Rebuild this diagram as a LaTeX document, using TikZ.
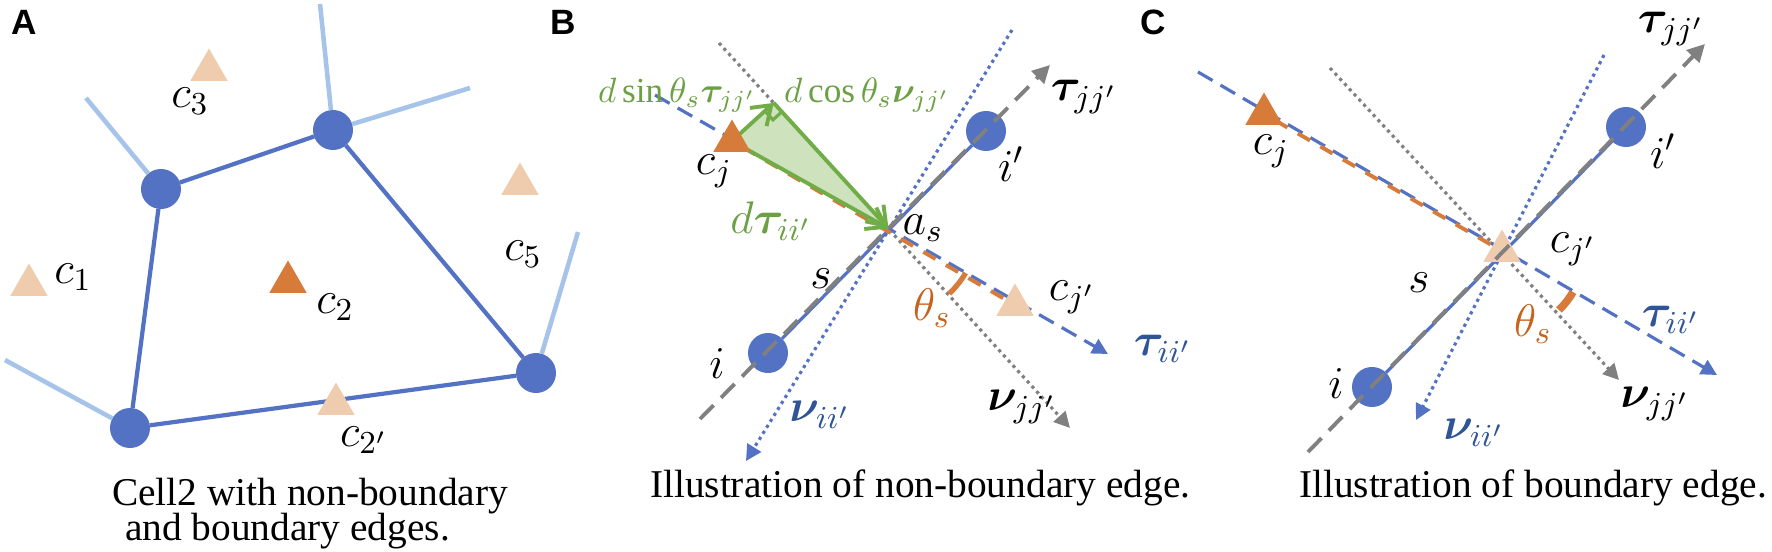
\RequirePackage{fix-cm}
\documentclass[tikz,border=0pt]{standalone}
\usepackage{amsmath}
\usepackage{bm}
\usepackage{fontspec}
\setmainfont{Liberation Serif}
\newfontfamily\panelfont{Liberation Sans}
\usetikzlibrary{arrows.meta,calc,shapes.geometric}

\definecolor{cellblue}{RGB}{84,114,196}
\definecolor{edgelight}{RGB}{166,196,234}
\definecolor{peach}{RGB}{240,204,174}
\definecolor{rust}{RGB}{214,123,58}
\definecolor{leaf}{RGB}{112,173,71}
\definecolor{leaffill}{RGB}{206,226,190}
\definecolor{leaftext}{RGB}{108,160,68}
\definecolor{axisgray}{RGB}{128,128,128}
\definecolor{navy}{RGB}{47,85,151}
\definecolor{thetatext}{RGB}{196,98,30}

\begin{document}
\begin{tikzpicture}[
  x=0.01cm,
  y=0.01cm,
  every node/.style={inner sep=0pt, outer sep=0pt},
  vertex/.style={circle, fill=cellblue, minimum size=0.40cm},
  centroid/.style={regular polygon, regular polygon sides=3, minimum size=0.43cm, fill=peach},
  maincentroid/.style={centroid, fill=rust},
  celledge/.style={draw=cellblue, line width=1.2pt},
  outedge/.style={draw=edgelight, line width=1.3pt},
  segedge/.style={draw=cellblue, line width=0.9pt},
  tanaxis/.style={draw=axisgray, line width=1.1pt, dash pattern=on 5.5pt off 3pt, -{Triangle[length=5pt,width=5pt]}},
  normaxis/.style={draw=axisgray, line width=0.9pt, dash pattern=on 0.9pt off 1.1pt, -{Triangle[length=4.5pt,width=4.5pt]}},
  bluetan/.style={draw=cellblue, line width=0.9pt, dash pattern=on 4.8pt off 2.6pt, -{Triangle[length=4.5pt,width=4.5pt]}},
  bluenorm/.style={draw=cellblue, line width=0.9pt, dash pattern=on 0.9pt off 1.1pt, -{Triangle[length=4.5pt,width=4.5pt]}},
  rustdash/.style={draw=rust, line width=1.1pt, dash pattern=on 4pt off 3.4pt, dash phase=3.7pt},
  thetaarc/.style={draw=rust, line width=1.5pt},
  vec/.style={draw=leaf, line width=1.1pt, -{Straight Barb[length=5pt,width=7pt]}},
  lab/.style={font=\fontsize{13}{15}\selectfont},
  greenlab/.style={lab, text=leaftext},
  smallgreen/.style={greenlab, font=\fontsize{10}{11}\selectfont},
  bluelab/.style={lab, text=navy},
  thetalab/.style={lab, text=thetatext},
  caption/.style={font=\fontsize{11.2}{12}\selectfont},
  panel/.style={font=\panelfont\bfseries\fontsize{10}{12}\selectfont}
]

  \path[use as bounding box] (0,0) rectangle (1772,-551);

  % Panel A: cell 2 and its edges
  \node[panel] (labA) at (24,-22) {A};
  \node[vertex] (Av1) at (161,-189) {};
  \node[vertex] (Av2) at (333,-130) {};
  \node[vertex] (Av3) at (536,-373) {};
  \node[vertex] (Av4) at (130,-428) {};
  \coordinate (Ao1) at (86,-98);
  \coordinate (Ao2) at (320,-4);
  \coordinate (Ao3) at (470,-88);
  \coordinate (Ao4) at (578,-232);
  \coordinate (Ao5) at (5,-360);
  \draw[outedge] (Av1) -- (Ao1);
  \draw[outedge] (Av2) -- (Ao2);
  \draw[outedge] (Av2) -- (Ao3);
  \draw[outedge] (Av3) -- (Ao4);
  \draw[outedge] (Av4) -- (Ao5);
  \draw[celledge] (Av1) -- (Av2) -- (Av3) -- (Av4) -- (Av1);

  \node[centroid] (Ac3) at (209,-70) {};
  \node[centroid] (Ac5) at (520,-184) {};
  \node[centroid] (Ac1) at (29,-285) {};
  \node[maincentroid] (Ac2) at (288,-282) {};
  \node[centroid] (Ac2p) at (336,-404) {};
  \node[lab] (Ac3-lab) at (190,-101) {$c_3$};
  \node[lab] (Ac1-lab) at (73,-277) {$c_1$};
  \node[lab] (Ac2-lab) at (335,-307) {$c_2$};
  \node[lab] (Ac5-lab) at (523,-254) {$c_5$};
  \node[lab] (Ac2p-lab) at (364,-440) {$c_{2'}$};
  \node[caption, anchor=base west] (Acap1) at (112,-505) {Cell2 with non-boundary};
  \node[caption, anchor=base west] (Acap2) at (125,-540) {and boundary edges.};

  % Panel B: non-boundary edge
  \node[panel] (labB) at (563,-22) {B};
  \node[vertex] (Bi) at (768,-353) {};
  \node[vertex] (Bip) at (986,-131) {};
  \coordinate (Bcj) at (732,-141);
  \coordinate (Bcjp) at (1015,-305);
  \coordinate (Bg1) at (700,-419);
  \coordinate (Bg2) at (1050,-65);
  \coordinate (Bm1) at (719,-43);
  \coordinate (Bm2) at (1070,-428);
  \coordinate (Bn1) at (1012,-30);
  \coordinate (Bn2) at (746,-461);
  \coordinate (Bt1) at (655,-95);
  \coordinate (Bt2) at (1108,-354);
  \coordinate (Bas) at (intersection of Bt1--Bt2 and Bg1--Bg2);
  \coordinate (BP) at ($(Bas)!(Bcj)!(Bm1)$);

  \draw[segedge] (Bi) -- (Bip);
  \draw[bluenorm] (Bn1) -- (Bn2);
  \draw[normaxis] (Bm1) -- (Bm2);
  \draw[bluetan] (Bt1) -- (Bt2);
  \draw[rustdash] (Bcj) -- (Bcjp);

  \fill[leaffill] (Bcj) -- (BP) -- (Bas) -- cycle;
  \coordinate (BPa) at ($(BP)!0.12cm!(Bcj)$);
  \coordinate (BPb) at ($(BP)!0.12cm!(Bas)$);
  \draw[leaf, line width=0.9pt] (BPa) -- ($(BPa)+(BPb)-(BP)$) -- (BPb);
  \draw[vec] (Bcj) -- (BP);
  \draw[vec] (BP) -- (Bas);
  \draw[vec] (Bcj) -- (Bas);
  \draw[thetaarc] ($(Bas)+(-47:89)$) arc[start angle=-47, end angle=-30, radius=89];

  \node[maincentroid] (Bcj-mark) at (Bcj) {};
  \node[centroid] (Bcjp-mark) at (Bcjp) {};
  \draw[tanaxis] (Bg1) -- (Bg2);

  \node[smallgreen, anchor=base west] (Bsin-lab) at (598,-102) {$d\sin\theta_s\bm{\tau}_{jj'}$};
  \node[smallgreen, anchor=base west] (Bcos-lab) at (784,-102) {$d\cos\theta_s\bm{\nu}_{jj'}$};
  \node[greenlab] (Bd-lab) at (771,-221) {$d\bm{\tau}_{ii'}$};
  \node[lab] (Bcj-lab) at (714,-171) {$c_j$};
  \node[lab] (Bip-lab) at (1011,-164) {$i'$};
  \node[lab] (Bas-lab) at (923,-228) {$a_s$};
  \node[lab] (Bs-lab) at (821,-279) {$s$};
  \node[thetalab] (Btheta-lab) at (932,-308) {$\theta_s$};
  \node[lab] (Bcjp-lab) at (1072,-297) {$c_{j'}$};
  \node[lab] (Bi-lab) at (717,-364) {$i$};
  \node[bluelab] (Btii-lab) at (1163,-349) {$\bm{\tau}_{ii'}$};
  \node[bluelab] (Bnii-lab) at (820,-415) {$\bm{\nu}_{ii'}$};
  \node[lab] (Bnjj-lab) at (1022,-407) {$\bm{\nu}_{jj'}$};
  \node[lab] (Btjj-lab) at (1084,-97) {$\bm{\tau}_{jj'}$};
  \node[caption, anchor=base west] (Bcap) at (650,-497) {Illustration of non-boundary edge.};

  % Panel C: boundary edge
  \node[panel] (labC) at (1153,-22) {C};
  \node[vertex] (Ci) at (1372,-387) {};
  \node[vertex] (Cip) at (1626,-127) {};
  \coordinate (Ccj) at (1264,-114);
  \coordinate (Ccjp) at (1502,-251);
  \coordinate (Cg1) at (1308,-452);
  \coordinate (Cg2) at (1705,-44);
  \coordinate (Cm1) at (1330,-68);
  \coordinate (Cm2) at (1619,-380);
  \coordinate (Cn1) at (1604,-55);
  \coordinate (Cn2) at (1416,-420);
  \coordinate (Ct1) at (1198,-72);
  \coordinate (Ct2) at (1717,-375);

  \draw[segedge] (Ci) -- (Cip);
  \draw[bluenorm] (Cn1) -- (Cn2);
  \draw[normaxis] (Cm1) -- (Cm2);
  \draw[bluetan] (Ct1) -- (Ct2);
  \draw[rustdash] (Ccj) -- (Ccjp);
  \draw[thetaarc, line width=2.2pt] ($(Ccjp)+(-46:82)$) arc[start angle=-46, end angle=-30, radius=82];

  \node[maincentroid] (Ccj-mark) at (Ccj) {};
  \node[centroid] (Ccjp-mark) at (Ccjp) {};
  \draw[tanaxis] (Cg1) -- (Cg2);

  \node[lab] (Ctjj-lab) at (1671,-29) {$\bm{\tau}_{jj'}$};
  \node[lab] (Cip-lab) at (1663,-151) {$i'$};
  \node[lab] (Ccj-lab) at (1271,-151) {$c_j$};
  \node[lab] (Ccjp-lab) at (1573,-249) {$c_{j'}$};
  \node[lab] (Cs-lab) at (1419,-283) {$s$};
  \node[thetalab] (Ctheta-lab) at (1533,-324) {$\theta_s$};
  \node[bluelab] (Ctii-lab) at (1671,-320) {$\bm{\tau}_{ii'}$};
  \node[lab] (Ci-lab) at (1336,-384) {$i$};
  \node[lab] (Cnjj-lab) at (1655,-404) {$\bm{\nu}_{jj'}$};
  \node[bluelab] (Cnii-lab) at (1474,-433) {$\bm{\nu}_{ii'}$};
  \node[caption, anchor=base west] (Ccap) at (1299,-497) {Illustration of boundary edge.};

\end{tikzpicture}
\end{document}
